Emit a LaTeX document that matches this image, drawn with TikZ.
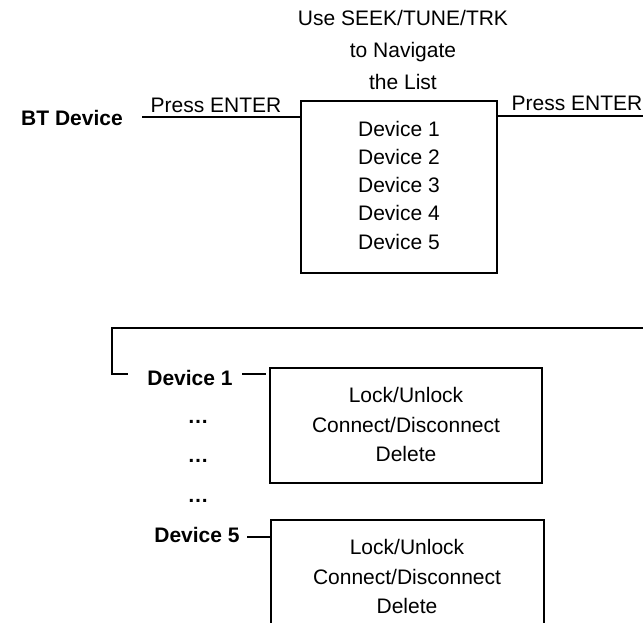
\documentclass[tikz,border=0pt]{standalone}
\usepackage{fontspec}
\setmainfont{Liberation Sans}
\begin{document}
\begin{tikzpicture}[x=1pt,y=-1pt,line width=1.3pt,
  txt/.style={font=\fontsize{21}{28}\selectfont,inner sep=0pt,text height=15pt,text depth=0pt},
  btxt/.style={font=\fontsize{21}{28}\selectfont\bfseries,inner sep=0pt,text height=15pt,text depth=0pt},
  frame/.style={draw,rectangle,inner sep=0pt}]
\useasboundingbox (0,0) rectangle (643,622);
\clip (0,0) rectangle (643,622);
% top captions
\node[txt] (t1) at (403,18) {Use SEEK/TUNE/TRK};
\node[txt] (t2) at (403,50) {to Navigate};
\node[txt] (t3) at (403,82) {the List};
% list box
\node[frame,minimum width=196pt,minimum height=172pt] (list) at (399,187) {};
\node[txt] (l1) at (399,129) {Device 1};
\node[txt] (l2) at (399,157) {Device 2};
\node[txt] (l3) at (399,185) {Device 3};
\node[txt] (l4) at (399,213) {Device 4};
\node[txt] (l5) at (399,242) {Device 5};
% BT device entry
\node[btxt] (bt) at (72,118) {BT Device};
\coordinate (inL) at (142,117);
\draw (inL) -- (inL -| list.west);
\node[txt] (pe1) at (216,105) {Press ENTER};
\coordinate (outR) at (643,116);
\draw (outR -| list.east) -- (outR);
\node[txt] (pe2) at (577,103) {Press ENTER};
% return line
\coordinate (r0) at (643,328);
\coordinate (c0) at (112,328);
\coordinate (c1) at (112,374);
\coordinate (tk) at (128,374);
\draw (r0) -- (c0) -- (c1) -- (tk);
% device 1 box
\node[btxt] (d1) at (190,378) {Device 1};
\node[frame,minimum width=272pt,minimum height=115pt] (b1) at (406,425.5) {};
\node[txt] (b1a) at (406,395) {Lock/Unlock};
\node[txt] (b1b) at (406,425) {Connect/Disconnect};
\node[txt] (b1c) at (406,454) {Delete};
\coordinate (a1) at (242,374);
\draw[shorten >=3pt] (a1) -- (a1 -| b1.west);
% dots
\node[btxt,anchor=base] (dt1) at (198,423) {…};
\node[btxt,anchor=base] (dt2) at (198,462) {…};
\node[btxt,anchor=base] (dt3) at (198,502) {…};
% device 5 box
\node[btxt] (d5) at (197,535) {Device 5};
\node[frame,minimum width=273pt,minimum height=115pt] (b2) at (407.5,577.5) {};
\node[txt] (b2a) at (407,547) {Lock/Unlock};
\node[txt] (b2b) at (407,577) {Connect/Disconnect};
\node[txt] (b2c) at (407,606) {Delete};
\coordinate (a5) at (247,537);
\draw (a5) -- (a5 -| b2.west);
\end{tikzpicture}
\end{document}
